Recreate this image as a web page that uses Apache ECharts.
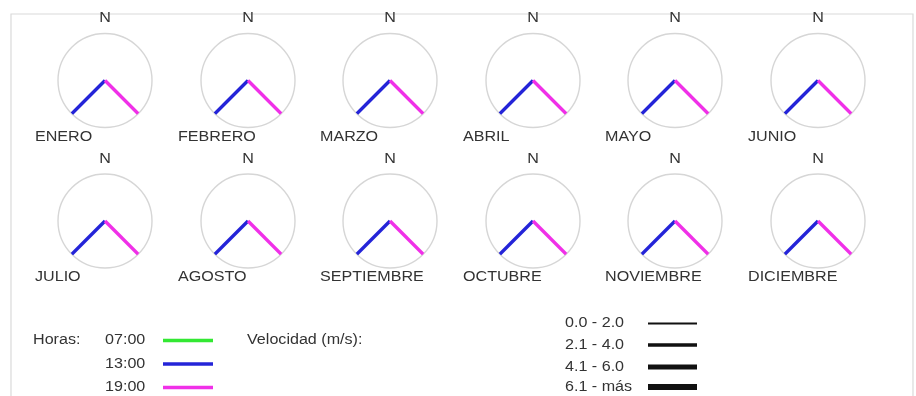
<!DOCTYPE html>
<html>
<head>
<meta charset="utf-8">
<script src="https://cdn.jsdelivr.net/npm/echarts@6/dist/echarts.min.js"></script>
<style>
  html, body { margin: 0; padding: 0; background: #fff; }
  #chart { width: 916px; height: 396px; }
</style>
</head>
<body>
<div id="chart"></div>
<script>
// Monthly wind roses: direction (degrees from north), relative length and speed class per hour
const months = ['ENERO', 'FEBRERO', 'MARZO', 'ABRIL', 'MAYO', 'JUNIO',
                'JULIO', 'AGOSTO', 'SEPTIEMBRE', 'OCTUBRE', 'NOVIEMBRE', 'DICIEMBRE'];

const hours = ['07:00', '13:00', '19:00'];
const hourColors = ['#33e833', '#2424d8', '#f030e8'];

// 07:00 – no dominant direction recorded
const dir07 = [null, null, null, null, null, null, null, null, null, null, null, null];
const len07 = [null, null, null, null, null, null, null, null, null, null, null, null];
const spd07 = [null, null, null, null, null, null, null, null, null, null, null, null];

// 13:00
const dir13 = [225, 225, 225, 225, 225, 225, 225, 225, 225, 225, 225, 225];
const len13 = [1, 1, 1, 1, 1, 1, 1, 1, 1, 1, 1, 1];
const spd13 = [1, 1, 1, 1, 1, 1, 1, 1, 1, 1, 1, 1];

// 19:00
const dir19 = [135, 135, 135, 135, 135, 135, 135, 135, 135, 135, 135, 135];
const len19 = [1, 1, 1, 1, 1, 1, 1, 1, 1, 1, 1, 1];
const spd19 = [1, 1, 1, 1, 1, 1, 1, 1, 1, 1, 1, 1];

const speedClasses = ['0.0 - 2.0', '2.1 - 4.0', '4.1 - 6.0', '6.1 - más'];
const speedWidths = [2, 3.3, 5, 6];

const hourData = [
  { dir: dir07, len: len07, spd: spd07 },
  { dir: dir13, len: len13, spd: spd13 },
  { dir: dir19, len: len19, spd: spd19 }
];

// Layout of the 6 x 2 grid of roses
const colX = [105, 248, 390, 533, 675, 818];
const rowY = [80.5, 221];
const roseR = 47;

const FONT = '"Liberation Sans", Arial, sans-serif';
const TXT = '#333';
const SX = 1.15;

const polar = [], angleAxis = [], radiusAxis = [], series = [], graphic = [];

graphic.push({
  type: 'rect', silent: true,
  shape: { x: 11, y: 14, width: 902, height: 420 },
  style: { fill: 'none', stroke: '#dadada', lineWidth: 1.2 }
});

function text(str, x, y, align) {
  graphic.push({
    type: 'text', silent: true, x: x, y: y, scaleX: SX,
    style: { text: str, fill: TXT, font: '14px ' + FONT, textAlign: align || 'left', textVerticalAlign: 'middle' }
  });
}

months.forEach((m, i) => {
  const cx = colX[i % 6];
  const cy = rowY[Math.floor(i / 6)];
  polar.push({ center: [cx, cy], radius: roseR });
  angleAxis.push({
    polarIndex: i, type: 'value', min: 0, max: 360, startAngle: 90, clockwise: true,
    axisLine: { show: true, lineStyle: { color: '#d6d6d6', width: 1.4 } },
    axisTick: { show: false }, axisLabel: { show: false }, splitLine: { show: false }
  });
  radiusAxis.push({
    polarIndex: i, type: 'value', min: 0, max: 1,
    axisLine: { show: false }, axisTick: { show: false }, axisLabel: { show: false }, splitLine: { show: false }
  });
  hourData.forEach((h, k) => {
    if (h.dir[i] == null) return;
    series.push({
      type: 'line', coordinateSystem: 'polar', polarIndex: i,
      name: hours[k], silent: true, animation: false,
      showSymbol: false, symbol: 'none',
      lineStyle: { color: hourColors[k], width: speedWidths[h.spd[i]], cap: 'butt' },
      data: [[0, h.dir[i]], [h.len[i], h.dir[i]]]
    });
  });
  text('N', cx, cy - 62, 'center');
  text(m, cx - 70, cy + 56.5, 'left');
});

// Hour legend
text('Horas:', 33, 340);
const hourY = [340.5, 364, 387.5];
hours.forEach((h, k) => {
  text(h, 105, hourY[k]);
  graphic.push({
    type: 'line', silent: true,
    shape: { x1: 163, y1: hourY[k], x2: 213, y2: hourY[k] },
    style: { stroke: hourColors[k], lineWidth: 3.3 }
  });
});

// Speed legend
text('Velocidad (m/s):', 247, 340);
const speedY = [323.5, 345, 367, 387];
speedClasses.forEach((s, k) => {
  text(s, 565, speedY[k]);
  graphic.push({
    type: 'line', silent: true,
    shape: { x1: 648, y1: speedY[k], x2: 697, y2: speedY[k] },
    style: { stroke: '#111', lineWidth: speedWidths[k] }
  });
});

const chart = echarts.init(document.getElementById('chart'), null, { renderer: 'canvas' });
chart.setOption({
  animation: false,
  backgroundColor: '#fff',
  polar, angleAxis, radiusAxis, series, graphic
});
</script>
</body>
</html>
